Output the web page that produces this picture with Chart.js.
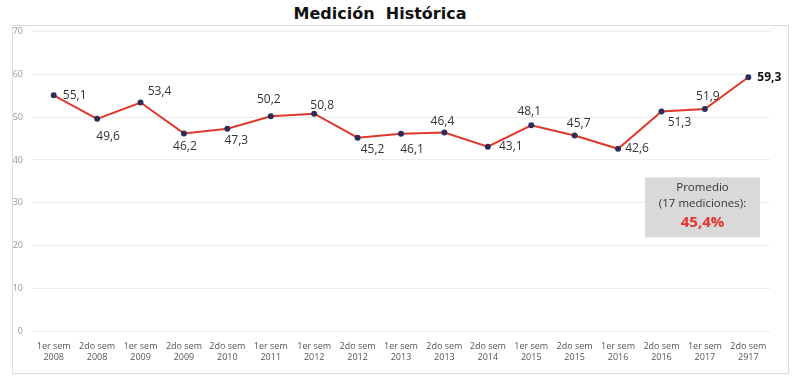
<!DOCTYPE html>
<html>
<head>
<meta charset="utf-8">
<script src="https://cdn.jsdelivr.net/npm/chart.js@4.4.0/dist/chart.umd.min.js"></script>
<style>
  body { margin: 0; background: #fff; width: 800px; height: 381px; position: relative; overflow: hidden; }
  #title { position: absolute; left: 0; top: 4px; width: 760px; text-align: center;
           font: bold 16px "DejaVu Sans", sans-serif; color: #111; white-space: pre; }
  #frame { position: absolute; left: 12px; top: 25px; width: 775px; height: 347px; border: 1px solid #dcdcdc; }
  #wrap { position: absolute; left: 13px; top: 17px; width: 775px; height: 356px; }
</style>
</head>
<body>
<div id="title">Medición  Histórica</div>
<div id="frame"></div>
<div id="wrap"><canvas id="myChart"></canvas></div>
<script>
// periodos y valores (%)
var periodos = [
  ["1er sem", "2008"], ["2do sem", "2008"], ["1er sem", "2009"], ["2do sem", "2009"],
  ["2do sem", "2010"], ["1er sem", "2011"], ["1er sem", "2012"], ["2do sem", "2012"],
  ["1er sem", "2013"], ["2do sem", "2013"], ["2do sem", "2014"], ["1er sem", "2015"],
  ["2do sem", "2015"], ["1er sem", "2016"], ["2do sem", "2016"], ["1er sem", "2017"],
  ["2do sem", "2917"]
];
var valores = [55.1, 49.6, 53.4, 46.2, 47.3, 50.2, 50.8, 45.2, 46.1, 46.4, 43.1, 48.1, 45.7, 42.6, 51.3, 51.9, 59.3];
var yTicks = [0, 10, 20, 30, 40, 50, 60, 70];
var promedio = "45,4%";

// where each value label sits relative to its point
var labelPos = [
  [21, 0], [11, 18], [19, -11], [1, 13], [9, 12], [-2, -17], [8, -8], [15, 12],
  [11, 16], [-2, -11], [23, 0], [-2, -14], [4, -12], [19, 0], [18, 11], [3, -12], [21, 0]
];

const valueLabels = {
  id: "valueLabels",
  afterDatasetsDraw(chart) {
    const ctx = chart.ctx;
    const meta = chart.getDatasetMeta(0);
    ctx.save();
    ctx.textAlign = "center";
    ctx.textBaseline = "middle";
    meta.data.forEach((pt, i) => {
      const last = i === valores.length - 1;
      ctx.font = (last ? "bold " : "") + "12px 'Open Sans', sans-serif";
      ctx.fillStyle = last ? "#111" : "#333";
      ctx.fillText(valores[i].toFixed(1).replace(".", ","), pt.x + labelPos[i][0], pt.y + labelPos[i][1]);
    });
    // caja del promedio
    const ca = chart.chartArea;
    const bx = ca.right - 125, by = ca.top + 146, bw = 115, bh = 60;
    ctx.fillStyle = "#d9d9d9";
    ctx.fillRect(bx, by, bw, bh);
    ctx.fillStyle = "#333";
    ctx.font = "11.5px 'Open Sans', sans-serif";
    ctx.fillText("Promedio", bx + bw / 2, by + 10);
    ctx.fillText("(17 mediciones):", bx + bw / 2, by + 26);
    ctx.fillStyle = "#e8322b";
    ctx.font = "bold 15px 'Open Sans', sans-serif";
    ctx.fillText(promedio, bx + bw / 2, by + 45);
    ctx.restore();
  }
};

new Chart("myChart", {
  type: "line",
  data: {
    labels: periodos,
    datasets: [{
      data: valores,
      borderColor: "#e0392b",
      borderWidth: 2,
      pointRadius: 2,
      pointBackgroundColor: "#2e2e5c",
      pointBorderColor: "#2e2e5c",
      tension: 0
    }]
  },
  options: {
    responsive: true,
    maintainAspectRatio: false,
    animation: false,
    layout: { padding: { top: 0, right: 18, bottom: 8, left: 0 } },
    plugins: { legend: { display: false }, tooltip: { enabled: false } },
    scales: {
      x: {
        offset: true,
        grid: { display: false },
        border: { display: false },
        ticks: { color: "#555", font: { size: 9, family: "'Open Sans', sans-serif" }, maxRotation: 0, autoSkip: false, padding: 2 }
      },
      y: {
        min: 0, max: 70,
        afterBuildTicks: (s) => { s.ticks = yTicks.map(v => ({ value: v })); },
        afterFit: (s) => { s.width = 19; },
        grid: { color: "#ececec", drawTicks: false },
        border: { display: false },
        ticks: { color: "#999", font: { size: 9, family: "'Open Sans', sans-serif" }, padding: 9 }
      }
    }
  },
  plugins: [valueLabels]
});
</script>
</body>
</html>
